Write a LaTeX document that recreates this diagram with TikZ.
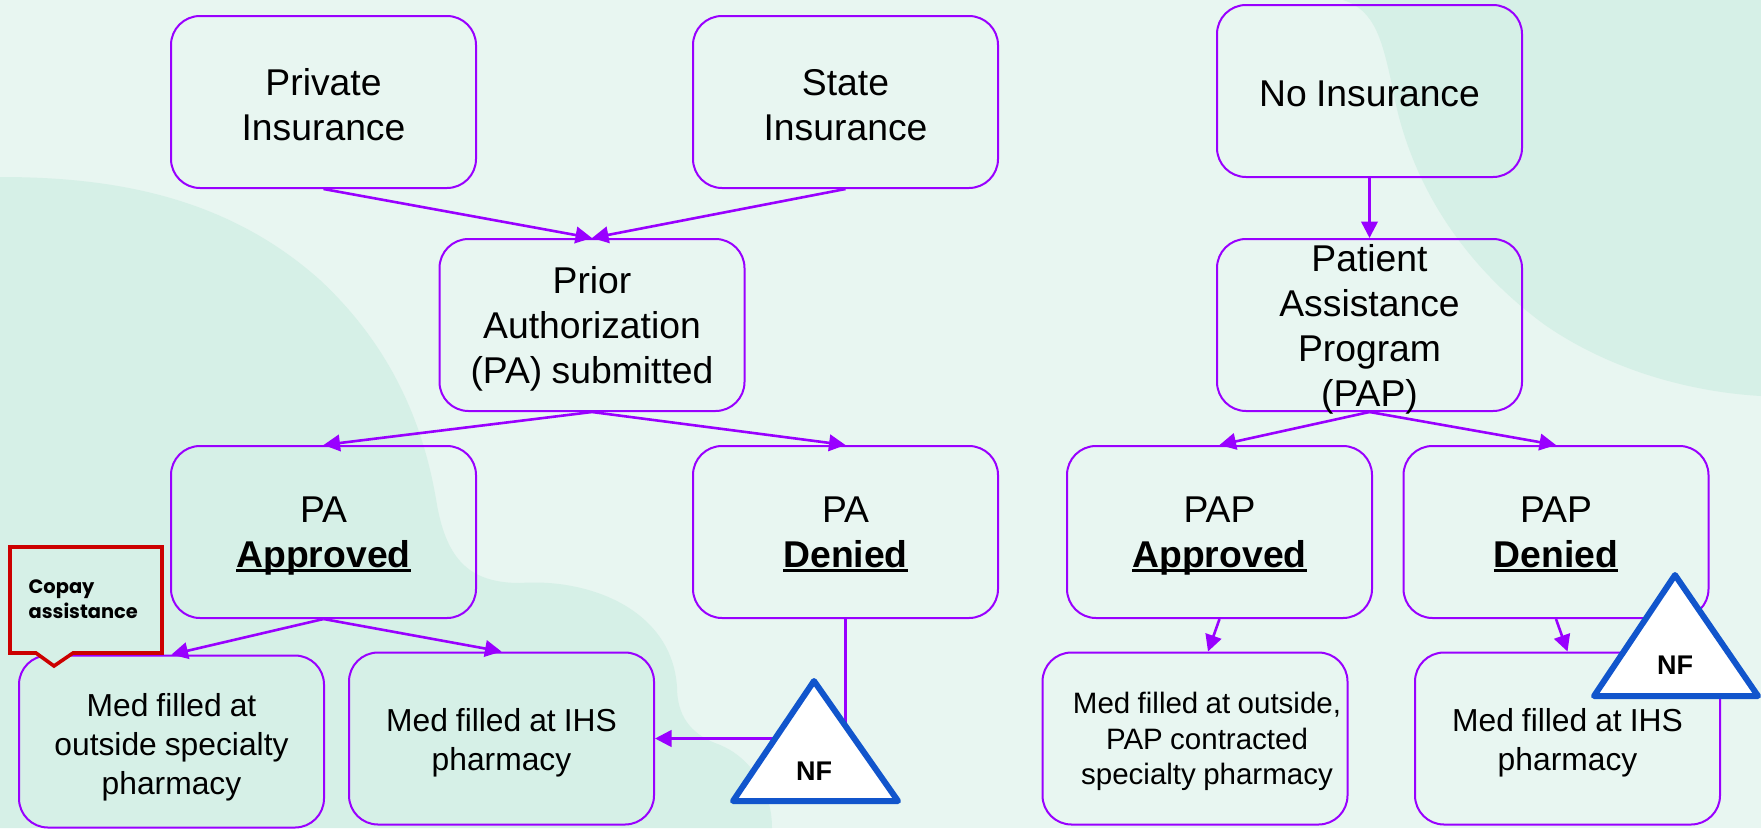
\documentclass[tikz,border=0pt]{standalone}
\usepackage{fontspec}
\setmainfont{Liberation Sans}
\newfontfamily\copayfont{Poppins}
\usetikzlibrary{arrows.meta,calc}
\definecolor{bgbase}{HTML}{E8F6F1}
\definecolor{bgblob}{HTML}{D6F0E7}
\definecolor{flowpurple}{HTML}{9900FF}
\definecolor{nfblue}{HTML}{1155CC}
\definecolor{copayred}{HTML}{CC0000}
\newsavebox{\ulbox}
\newcommand{\boldul}[1]{\sbox{\ulbox}{\bfseries #1}\smash{\leavevmode\rlap{\rule[-4.5pt]{\wd\ulbox}{3pt}}\usebox{\ulbox}}}
\newcommand{\topstrut}[1]{\rule{0pt}{#1pt}}
\newcommand{\nudge}{\hspace*{24pt}}
\newcommand{\tightgaps}{\spaceskip 0.25em\relax}
\tikzset{
  x=1pt,y=-1pt,
  flowbox/.style={draw=flowpurple,line width=2pt,rounded corners=29pt,fill=none,inner sep=0pt,align=center,
    minimum width=305pt,minimum height=172pt,text width=290pt,font=\fontsize{37.3}{45}\selectfont,text=black,
    execute at begin node={\tightgaps}},
  medbox/.style={flowbox,font=\fontsize{31.8}{39}\selectfont},
  flowarrow/.style={draw=flowpurple,line width=2.6pt,-{Triangle[length=16.5pt,width=16.5pt]}},
  nftri/.style={draw=nfblue,fill=white,line width=6pt,line join=round},
  nflabel/.style={font=\fontsize{27}{30}\selectfont\bfseries,text=black,inner sep=0pt},
}
\begin{document}
\begin{tikzpicture}
\useasboundingbox (0,0) rectangle (1761,828);
\fill[bgbase] (0,0) rectangle (1761,828);
% background blobs
\fill[bgblob] (0,177) .. controls (110,177) and (225,195) .. (320,280)
  .. controls (395,350) and (425,430) .. (437,505)
  .. controls (447,560) and (470,583) .. (520,583)
  .. controls (590,578) and (672,610) .. (677,687)
  .. controls (677,715) and (690,733) .. (715,743)
  .. controls (750,755) and (772,790) .. (772,828) -- (0,828) -- cycle;
\fill[bgblob] (1343,0) .. controls (1375,10) and (1382,40) .. (1392,85)
  .. controls (1410,190) and (1470,270) .. (1545,325)
  .. controls (1610,370) and (1690,392) .. (1761,396) -- (1761,0) -- cycle;
% boxes
\node[flowbox] (private) at (323.5,102) {\topstrut{31.5}Private\\Insurance};
\node[flowbox] (state) at (845.5,102) {\topstrut{31.5}State\\Insurance};
\node[flowbox] (noins) at (1369.5,91) {\topstrut{31.5}No Insurance};
\node[flowbox] (prior) at (592,325) {Prior\\Authorization\\\smash{(PA) submitted}};
\node[flowbox] (pap) at (1369.5,325) {Patient\\Assistance\\Program\\\smash{(PAP)}};
\node[flowbox] (paok) at (323.5,532) {PA\\\boldul{Approved}};
\node[flowbox] (pano) at (845.5,532) {PA\\\boldul{Denied}};
\node[flowbox] (papok) at (1219.5,532) {PAP\\\boldul{Approved}};
\node[flowbox] (papno) at (1556,532) {PAP\\\boldul{Denied}};
\node[medbox] (medout) at (171.5,741.5) {\topstrut{27.6}Med filled at\\outside specialty\\\smash{pharmacy}};
\node[medbox] (medihs) at (501.5,738.5) {\topstrut{25.4}Med filled at IHS\\\smash{pharmacy}};
\node[medbox,text width=300pt,font=\fontsize{29.5}{35.5}\selectfont] (medpap) at (1195,738.5) {\nudge Med filled at outside,\\\nudge PAP contracted\\\nudge\smash{specialty pharmacy}};
\node[medbox] (medihstwo) at (1567.5,738.5) {\topstrut{25.4}Med filled at IHS\\\smash{pharmacy}};
\coordinate (medpaptop) at ($(medpap.north)+(13,0)$);
% connectors
\draw[flowarrow] (private.south) -- (prior.north);
\draw[flowarrow] (state.south) -- (prior.north);
\draw[flowarrow] (noins.south) -- (pap.north);
\draw[flowarrow] (prior.south) -- (paok.north);
\draw[flowarrow] (prior.south) -- (pano.north);
\draw[flowarrow] (pap.south) -- (papok.north);
\draw[flowarrow] (pap.south) -- (papno.north);
\draw[flowarrow] (paok.south) -- (medout.north);
\draw[flowarrow] (paok.south) -- (medihs.north);
\draw[flowarrow] (papok.south) -- (medpaptop);
\draw[flowarrow] (papno.south) -- (medihstwo.north);
\draw[flowarrow] (pano.south) |- (medihs.east);
% copay callout
\draw[draw=copayred,line width=3.6pt,fill=bgblob,line join=miter]
  (10,547) -- (162,547) -- (162,653) -- (73,653) -- (54,666) -- (36,653) -- (10,653) -- cycle;
\node[inner sep=0pt,align=left,anchor=west,font=\fontsize{19.4}{25}\selectfont\copayfont\bfseries] (copay) at (28.5,599) {Copay\\assistance};
% NF triangles
\draw[nftri] (814,681) -- (898,801) -- (733,801) -- cycle;
\node[nflabel] (nfa) at (814,771) {NF};
\draw[nftri] (1675,575) -- (1758,696) -- (1594,696) -- cycle;
\node[nflabel] (nfb) at (1675,665) {NF};
\end{tikzpicture}
\end{document}
